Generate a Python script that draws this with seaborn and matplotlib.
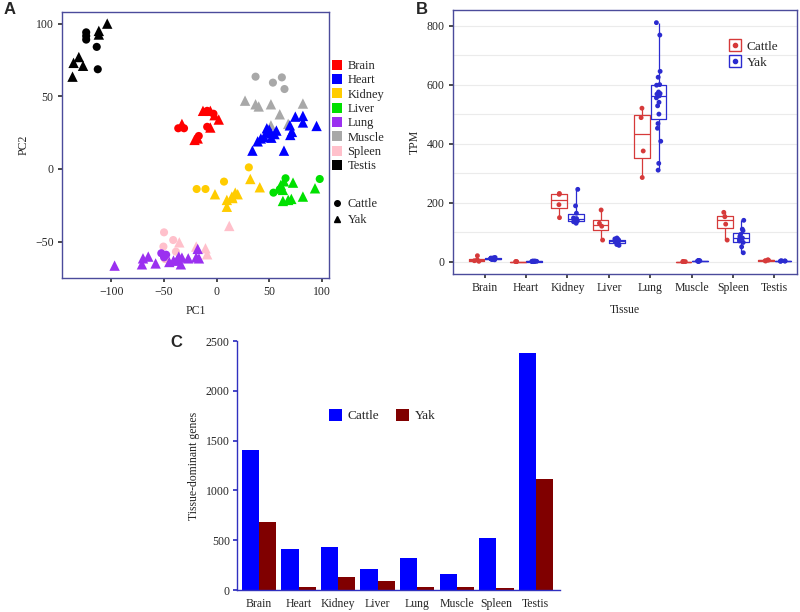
##
## Yak vs cattle transcriptome: PCA, TPM boxplots and tissue-dominant genes
##
import numpy as np
import pandas as pd
import matplotlib
matplotlib.use('Agg')
import matplotlib.pyplot as plt
from matplotlib.lines import Line2D
from matplotlib.patches import Patch
import seaborn as sns

sns.set_theme(style='white')
plt.rcParams['font.family'] = ['Liberation Serif', 'DejaVu Serif']

TISSUES = ['Brain', 'Heart', 'Kidney', 'Liver', 'Lung', 'Muscle', 'Spleen', 'Testis']
TISSUE_COLORS = ['#FF0000', '#0000FF', '#FFCC00', '#00E000', '#9B30F0', '#A8A8A8', '#FFC0CB', '#000000']
BORDER = '#4B4B9B'

# ---- panel A: PCA samples (tissue, species, PC1, PC2)
pca_tissue = (['Testis'] * 12 + ['Brain'] * 14 + ['Muscle'] * 12 + ['Heart'] * 19 +
              ['Kidney'] * 13 + ['Liver'] * 14 + ['Spleen'] * 10 + ['Lung'] * 18)
pca_species = (['Cattle'] * 5 + ['Yak'] * 7 +
               ['Cattle'] * 6 + ['Yak'] * 8 +
               ['Cattle'] * 4 + ['Yak'] * 8 +
               ['Yak'] * 19 +
               ['Cattle'] * 4 + ['Yak'] * 9 +
               ['Cattle'] * 4 + ['Yak'] * 10 +
               ['Cattle'] * 5 + ['Yak'] * 5 +
               ['Cattle'] * 3 + ['Yak'] * 15)
pca_pc1 = [-124, -124, -124, -114, -113, -104, -112, -112, -131, -136, -127, -137,
           -36.5, -31, -17, -9, -9, -3, -33, -21, -13, -6, -2, 2, -6, -18,
           37, 53.5, 62, 64.5, 27, 37, 40, 51.6, 60, 82, 51.6, 68,
           34, 39, 45, 48, 51.6, 55, 56.8, 47.7, 64, 70, 69.6, 71.6, 74.8, 82, 82, 95, 42, 52, 50,
           -19, -10.6, 7, 30.6, -1.6, 9.7, 9.7, 14.5, 17.7, 20, 32, 41, 15,
           54, 65.5, 98, 60, 61, 63, 72.6, 63, 68, 71, 82, 93.5, 59.7, 64,
           -50, -41.3, -50.6, -38.7, -49, -35.5, -19.4, -10.6, -9, 12,
           -52.6, -50, -48, -97, -70, -65, -71, -58, -45, -41, -34, -36, -27, -19.4, -16.8, -18, -38, -33]
pca_pc2 = [94, 91.5, 89, 84, 68.6, 100, 95, 92.5, 77, 73, 71, 63.5,
           28, 28, 22.7, 29, 40, 38, 31, 20, 40, 40, 37, 34, 28.5, 21,
           63.5, 59.4, 63, 55, 47, 44.5, 43, 44.5, 37.6, 45, 30, 31,
           12.6, 19, 22, 25.5, 24.5, 24, 26.4, 28, 12.6, 23.4, 30, 25.5, 36, 36.5, 32, 29.6, 21, 21.5, 27,
           -13.8, -13.8, -8.7, 1.1, -17.4, -21.3, -26, -19, -16.3, -17.4, -6.9, -12.6, -20,
           -16.3, -6.4, -6.9, -14, -11, -14.4, -9.4, -22, -21.3, -20.6, -19, -13.3, -13.5, -8.5,
           -43.6, -48.9, -53.4, -56.9, -62, -50.5, -53.4, -54.6, -58.7, -39.2,
           -58, -60.8, -59, -66.5, -61.5, -60.3, -65.6, -65, -64, -63, -65.6, -60.3, -61.5, -60.8, -61.5, -55, -63, -61]

# ---- panel B: TPM per sample
tpm_cattle = {
    'Brain': [20, 3, 1, 6],
    'Heart': [0, 0, 0],
    'Kidney': [228, 231, 193, 149],
    'Liver': [175, 130, 120, 73],
    'Lung': [520, 488, 375, 285],
    'Muscle': [0, 0, 0, 0],
    'Spleen': [167, 152, 127, 73],
    'Testis': [5, 3, 2, 6],
}
tpm_yak = {
    'Brain': [14, 11, 10, 8, 9, 12, 7, 10, 6, 9, 13, 11],
    'Heart': [1, 0, 1, 2, 0, 1, 1, 0, 2, 1],
    'Kidney': [245, 189, 164, 146, 143, 141, 138, 135, 130, 148],
    'Liver': [80, 75, 72, 68, 65, 62, 58, 55, 70, 77],
    'Lung': [810, 768, 645, 625, 600, 598, 575, 570, 568, 562, 555, 540, 528, 500, 468, 452, 408, 333, 310],
    'Muscle': [2, 3, 1, 2, 4, 3, 2, 1],
    'Spleen': [140, 110, 105, 92, 85, 80, 75, 70, 65, 50, 30],
    'Testis': [2, 2, 1, 3, 2],
}

# ---- panel C: tissue-dominant genes
dominant_cattle = [1405, 412, 432, 214, 325, 157, 525, 2380]
dominant_yak = [686, 27, 130, 90, 30, 33, 23, 1111]

fig = plt.figure(figsize=(8, 6.12), dpi=100)

# ============ A
axA = fig.add_axes([0.0775, 0.5458, 0.334, 0.4346])
pca = pd.DataFrame({'Tissue': pca_tissue, 'Species': pca_species, 'PC1': pca_pc1, 'PC2': pca_pc2})
for sp, mk, sz in [('Cattle', 'o', 34), ('Yak', '^', 56)]:
    sns.scatterplot(data=pca[pca['Species'] == sp], x='PC1', y='PC2', hue='Tissue',
                    hue_order=TISSUES, palette=TISSUE_COLORS, marker=mk, s=sz,
                    linewidth=0, legend=False, ax=axA)
axA.set_xlim(-147, 107)
axA.set_ylim(-75, 108)
axA.set_xticks([-100, -50, 0, 50, 100])
axA.set_yticks([-50, 0, 50, 100])
axA.set_xlabel('PC1', fontsize=8.5, labelpad=5)
axA.set_ylabel('PC2', fontsize=8.5, labelpad=4)

tissue_h = [Patch(facecolor=c, edgecolor='none', label=t) for t, c in zip(TISSUES, TISSUE_COLORS)]
leg1 = axA.legend(handles=tissue_h, loc='upper left', bbox_to_anchor=(1.01, 0.82), frameon=False,
                  fontsize=9, handlelength=0.85, handleheight=0.85, handletextpad=0.4,
                  labelspacing=0.16, borderaxespad=0, borderpad=0)
axA.add_artist(leg1)
species_h = [Line2D([], [], marker='o', color='black', linestyle='none', markersize=4, label='Cattle'),
             Line2D([], [], marker='^', color='black', linestyle='none', markersize=5, label='Yak')]
axA.legend(handles=species_h, loc='upper left', bbox_to_anchor=(1.01, 0.30), frameon=False,
           fontsize=9, handlelength=0.85, handletextpad=0.4, labelspacing=0.3,
           borderaxespad=0, borderpad=0)

# ============ B
axB = fig.add_axes([0.566, 0.5523, 0.43, 0.4314])
rows = []
for t in TISSUES:
    rows += [(t, 'Cattle', v) for v in tpm_cattle[t]]
    rows += [(t, 'Yak', v) for v in tpm_yak[t]]
tpm = pd.DataFrame(rows, columns=['Tissue', 'Species', 'TPM'])
pal_b = {'Cattle': '#D63A3A', 'Yak': '#2B2BD0'}
axB.set_yticks(np.arange(0, 801, 100), minor=True)
axB.grid(True, which='both', color='#EBEBEB', linewidth=0.8)
axB.set_axisbelow(True)
sns.boxplot(data=tpm, x='Tissue', y='TPM', hue='Species', order=TISSUES, palette=pal_b,
            fill=False, whis=(0, 100), showfliers=False, showcaps=False, width=0.8, gap=0.05,
            linewidth=0.9, legend=False, ax=axB)
sns.stripplot(data=tpm, x='Tissue', y='TPM', hue='Species', order=TISSUES, palette=pal_b,
              dodge=True, jitter=0.12, size=3.5, linewidth=0, legend=False, ax=axB)
axB.set_xlim(-0.77, 7.54)
axB.set_ylim(-42, 853)
axB.set_yticks([0, 200, 400, 600, 800])
axB.set_xlabel('Tissue', fontsize=8.5, labelpad=7)
axB.set_ylabel('TPM', fontsize=8.5)
leg_h = [(Line2D([], [], marker='s', markersize=8, markerfacecolor='white', markeredgecolor=c,
                 linestyle='none'),
          Line2D([], [], marker='o', markersize=3, color=c, linestyle='none')) for c in pal_b.values()]
axB.legend(leg_h, list(pal_b.keys()), loc='upper right', bbox_to_anchor=(0.98, 0.93), frameon=False,
           fontsize=9.5, handlelength=1.0, handletextpad=0.4, labelspacing=0.3)

for ax in (axA, axB):
    for s in ax.spines.values():
        s.set_color(BORDER)
        s.set_linewidth(1.0)
    ax.tick_params(labelsize=8.5, length=3, color='#333333', pad=3, bottom=True, left=True)
    ax.tick_params(which='minor', length=0)

# ============ C
axC = fig.add_axes([0.296, 0.0359, 0.404, 0.4069])
genes = pd.DataFrame({'Tissue': TISSUES * 2,
                      'Species': ['Cattle'] * 8 + ['Yak'] * 8,
                      'Genes': dominant_cattle + dominant_yak})
sns.barplot(data=genes, x='Tissue', y='Genes', hue='Species', order=TISSUES,
            palette={'Cattle': '#0000FF', 'Yak': '#800000'}, width=0.87, gap=0,
            saturation=1, linewidth=0, ax=axC)
axC.set_xlim(-0.56, 7.61)
axC.set_ylim(0, 2500)
axC.set_yticks([0, 500, 1000, 1500, 2000, 2500])
axC.set_xlabel('')
axC.set_ylabel('Tissue-dominant genes', fontsize=8.5)
sns.despine(ax=axC)
for s in ('left', 'bottom'):
    axC.spines[s].set_color('#3030C0')
    axC.spines[s].set_linewidth(1.0)
axC.tick_params(axis='y', labelsize=8.5, length=3, color='#3030C0', left=True, pad=2)
axC.tick_params(axis='x', labelsize=8.5, length=0, pad=6)
axC.legend(loc='center', bbox_to_anchor=(0.45, 0.70), ncol=2, frameon=False, fontsize=9.5,
           handlelength=1.0, handleheight=1.0, handletextpad=0.4, columnspacing=1.3)

for x, y, lab in [(0.004, 0.984, 'A'), (0.52, 0.984, 'B'), (0.213, 0.44, 'C')]:
    fig.text(x, y, lab, fontsize=12, fontweight='bold', family=['Liberation Sans', 'DejaVu Sans'],
             va='center')

fig.savefig('out.png', dpi=100)
